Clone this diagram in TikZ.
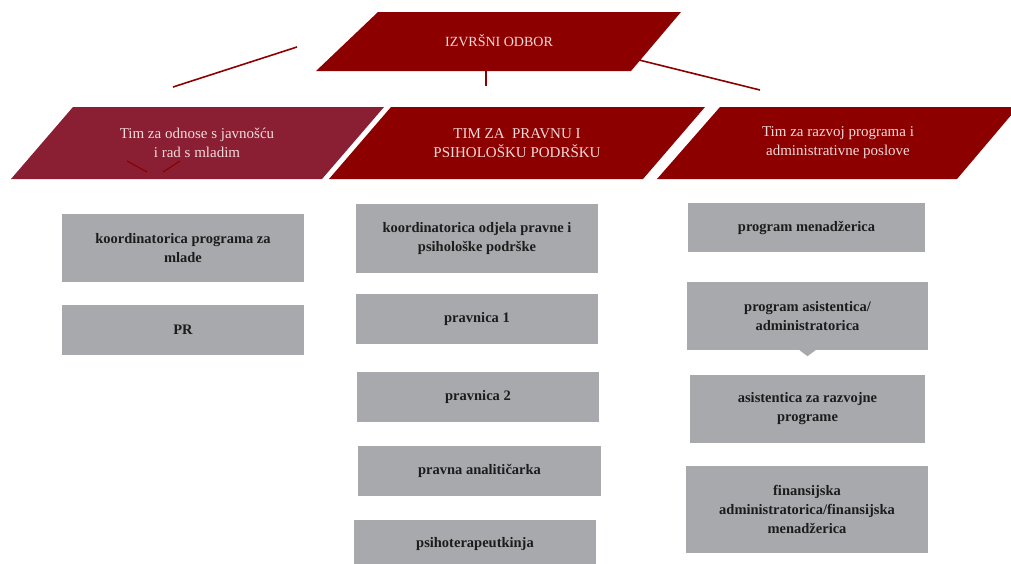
\documentclass[tikz,border=0pt]{standalone}
\usepackage{fontspec}
\setmainfont{Liberation Serif}
\usetikzlibrary{calc}
\definecolor{crim}{RGB}{140,0,0}
\definecolor{rose}{RGB}{138,31,51}
\definecolor{boxgray}{RGB}{167,169,172}
\definecolor{paletxt}{RGB}{242,218,218}
\definecolor{boxtxt}{RGB}{28,28,28}
\begin{document}
\begin{tikzpicture}[x=1pt,y=-1pt,
  headtxt/.style={text=paletxt,align=center,font=\fontsize{15}{19}\selectfont,inner sep=0pt},
  stafbox/.style={fill=boxgray,text=boxtxt,align=center,inner sep=0pt,
     font=\fontsize{14.5}{19}\selectfont\bfseries},
  link/.style={draw=crim,line width=1.6pt}]
\useasboundingbox (0,0) rectangle (1011,563);
\clip (0,0) rectangle (1011,563);
% top
\fill[crim] (378,12) -- (681,12) -- (631,71) -- (316,71) -- cycle;
\node[headtxt,font=\fontsize{14}{16}\selectfont] (board) at (499,41) {IZVRŠNI ODBOR};
% level 2
\fill[rose] (73,107) -- (384,107) -- (322,179) -- (11,179) -- cycle;
\fill[crim] (391,107) -- (705,107) -- (643,179) -- (329,179) -- cycle;
\fill[crim] (720,107) -- (1018,107) -- (957,179) -- (657,179) -- cycle;
\node[headtxt] (teamA) at (197,143) {Tim za odnose s javnošću\\i rad s mladim};
\node[headtxt] (teamB) at (517,143) {TIM ZA\ \ PRAVNU I\\PSIHOLOŠKU PODRŠKU};
\node[headtxt] (teamC) at (838,143) {Tim za razvoj programa i\\administrativne poslove};
% connector stubs
\coordinate (lA) at (297,47); \coordinate (lB) at (173,87);
\coordinate (cA) at (486,71); \coordinate (cB) at (486,86);
\coordinate (rA) at (631,58); \coordinate (rB) at (760,90);
\draw[link] (lA) -- (lB);
\draw[link] (cA) -- (cB);
\draw[link] (rA) -- (rB);
% small remnant marks
\coordinate (m1) at (127,161); \coordinate (m2) at (147,172);
\coordinate (m3) at (180,161); \coordinate (m4) at (163,172);
\draw[draw=crim,line width=1.2pt] (m1) -- (m2);
\draw[draw=crim,line width=1.2pt] (m3) -- (m4);
% left column
\node[stafbox,minimum width=242pt,minimum height=68pt] (a1) at (183,248) {koordinatorica programa za\\mlade};
\node[stafbox,minimum width=242pt,minimum height=50pt] (a2) at (183,330) {PR};
% middle column
\node[stafbox,minimum width=242pt,minimum height=69pt] (b1) at (477,238.5) {koordinatorica odjela pravne i\\psihološke podrške};
\node[stafbox,minimum width=242pt,minimum height=50pt] (b2) at (477,319) {pravnica 1};
\node[stafbox,minimum width=242pt,minimum height=50pt] (b3) at (478,397) {pravnica 2};
\node[stafbox,minimum width=243pt,minimum height=50pt] (b4) at (479.5,471) {pravna analitičarka};
\node[stafbox,minimum width=242pt,minimum height=49pt] (b5) at (475,544) {psihoterapeutkinja};
% right column
\node[stafbox,minimum width=237pt,minimum height=49pt] (c1) at (806.5,227.5) {program menadžerica};
\node[stafbox,minimum width=241pt,minimum height=68pt] (c2) at (807.5,316) {program asistentica/\\administratorica};
\fill[boxgray] ($(c2.south)+(-8,0)$) -- ($(c2.south)+(8,0)$) -- ($(c2.south)+(0,6)$) -- cycle;
\node[stafbox,minimum width=235pt,minimum height=68pt] (c3) at (807.5,409) {asistentica za razvojne\\programe};
\node[stafbox,minimum width=242pt,minimum height=87pt] (c4) at (807,509.5) {finansijska\\administratorica/finansijska\\menadžerica};
\end{tikzpicture}
\end{document}
